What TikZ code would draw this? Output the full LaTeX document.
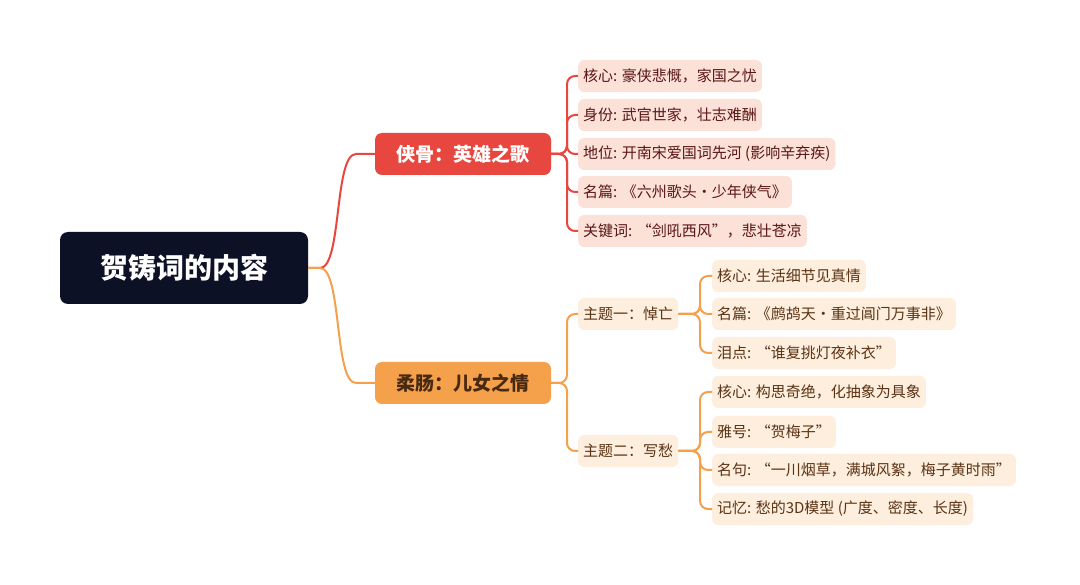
\documentclass[tikz,border=0pt]{standalone}
\usepackage{fontspec}
\setmainfont{Noto Sans CJK SC}
\begin{document}
\begin{tikzpicture}[x=1pt,y=-1pt,
 leafR/.style={anchor=west,fill=leafRf,rounded corners=6pt,text=leafRt,inner xsep=5pt,minimum height=32pt,font=\fontsize{15}{18}\selectfont},
 leafO/.style={leafR,fill=leafOf,text=leafOt},
 main/.style={rounded corners=7pt,minimum width=176pt,minimum height=42pt,font=\fontsize{19}{22}\selectfont\bfseries},
 eR/.style={draw=cR,line width=2pt,rounded corners=8pt},
 eO/.style={draw=cO,line width=2pt,rounded corners=8pt}]
\definecolor{cR}{HTML}{E8473F}\definecolor{cO}{HTML}{F5A04B}
\definecolor{leafRf}{HTML}{FBE1D8}\definecolor{leafRt}{HTML}{5A1515}
\definecolor{leafOf}{HTML}{FDEEDD}\definecolor{leafOt}{HTML}{5A3315}
\definecolor{rootc}{HTML}{0D1126}
\useasboundingbox[fill=white] (0,0) rectangle (1080,585);
\node[fill=rootc,text=white,rounded corners=8pt,minimum width=248pt,minimum height=72pt,font=\fontsize{28}{32}\selectfont\bfseries] (root) at (184,268) {贺铸词的内容};
\node[main,fill=cR,text=white] (R) at (463,154) {侠骨：英雄之歌};
\node[main,fill=cO,text=leafOt!80!black] (O) at (463,383) {柔肠：儿女之情};
\node[leafR] (r1) at (578,76) {核心: 豪侠悲慨，家国之忧};
\node[leafR] (r2) at (578,115) {身份: 武官世家，壮志难酬};
\node[leafR] (r3) at (578,154) {地位: 开南宋爱国词先河 (影响辛弃疾)};
\node[leafR] (r4) at (578,192) {名篇: 《六州歌头·少年侠气》};
\node[leafR] (r5) at (578,231) {关键词: “剑吼西风”，悲壮苍凉};
\node[leafO] (s1) at (578,314) {主题一：悼亡};
\node[leafO] (s2) at (578,451) {主题二：写愁};
\node[leafO] (a1) at (712,276) {核心: 生活细节见真情};
\node[leafO] (a2) at (712,314) {名篇: 《鹧鸪天·重过阊门万事非》};
\node[leafO] (a3) at (712,353) {泪点: “谁复挑灯夜补衣”};
\node[leafO] (b1) at (712,392) {核心: 构思奇绝，化抽象为具象};
\node[leafO] (b2) at (712,432) {雅号: “贺梅子”};
\node[leafO] (b3) at (712,470) {名句: “一川烟草，满城风絮，梅子黄时雨”};
\node[leafO] (b4) at (712,509) {记忆: 愁的3D模型 (广度、密度、长度)};
\draw[draw=cR,line width=2pt] (root.east) -- (320,268) .. controls (342,268) and (334,154) .. (356,154) -- (R.west);
\draw[draw=cO,line width=2pt] (root.east) -- (320,268) .. controls (342,268) and (334,383) .. (356,383) -- (O.west);
\foreach \n in {r1,r2,r3,r4,r5} \draw[eR] (R.east) -- (567,154) |- (\n.west);
\foreach \n in {s1,s2} \draw[eO] (O.east) -- (567,383) |- (\n.west);
\foreach \n in {a1,a2,a3} \draw[eO] (s1.east) -- (700,314) |- (\n.west);
\foreach \n in {b1,b2,b3,b4} \draw[eO] (s2.east) -- (700,451) |- (\n.west);
\end{tikzpicture}
\end{document}
